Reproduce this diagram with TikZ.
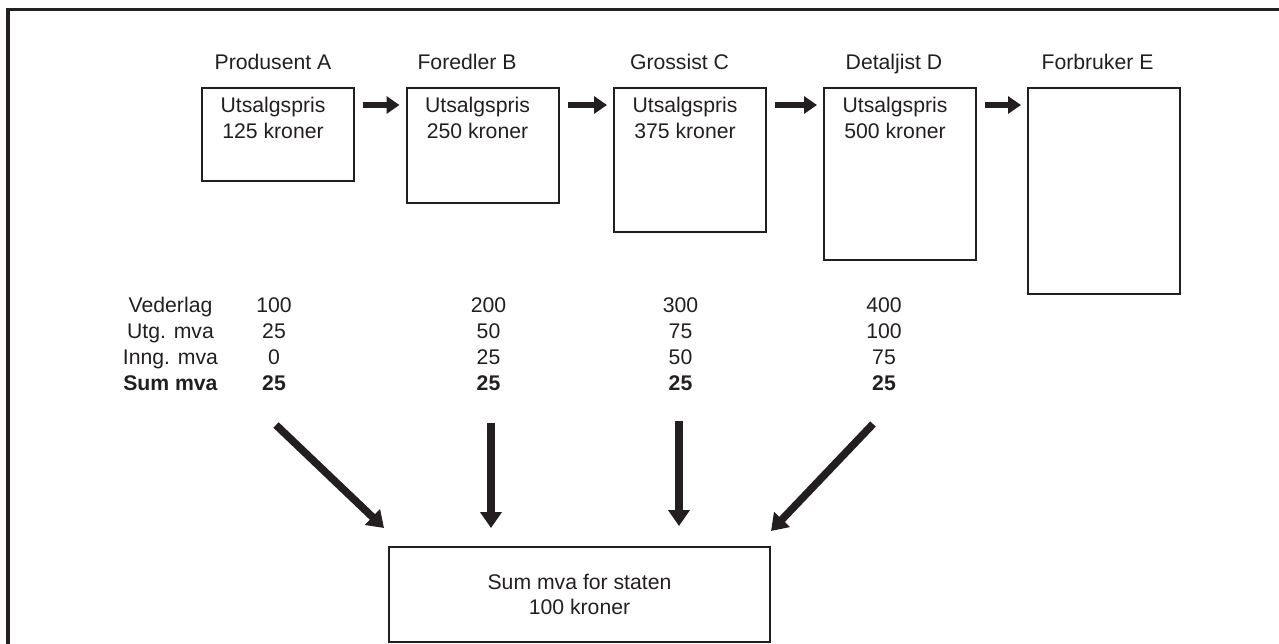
\documentclass[tikz,border=0pt]{standalone}
\usepackage{fontspec}
\setmainfont{Liberation Sans}
\usetikzlibrary{arrows.meta}

\definecolor{ink}{HTML}{231F20}

\begin{document}
\begin{tikzpicture}[x=0.5pt, y=-0.5pt, ink,
    every node/.style = {font=\fontsize{10.6pt}{13pt}\selectfont, text=ink},
    boks/.style = {draw, line width=1pt, inner sep=0pt, minimum width=76pt},
    pil/.style = {line width=3.3pt, -{Triangle[length=6.5pt, width=8.5pt]}},
    pilned/.style = {line width=3.8pt, -{Triangle[length=8pt, width=10.5pt]}}]
\useasboundingbox (0,0) rectangle (1279,643);
\clip (0,0) rectangle (1279,643);
\draw[line width=1.6pt] (8,9.5) rectangle (1300,680);

\node[boks, minimum height=46.5pt] (A) at (278,134.5) {};
\node[boks, minimum height=57.5pt] (B) at (482.5,145.5) {};
\node[boks, minimum height=72pt]   (C) at (690,160) {};
\node[boks, minimum height=86pt]   (D) at (900,174) {};
\node[boks, minimum height=103pt]  (E) at (1104,191) {};

\node[anchor=base] (tA) at (273,69.5)    {Produsent A};
\node[anchor=base] (tB) at (467,69.5)    {Foredler B};
\node[anchor=base] (tC) at (679.5,69.5)  {Grossist C};
\node[anchor=base] (tD) at (894,69.5)    {Detaljist D};
\node[anchor=base] (tE) at (1097.5,69.5) {Forbruker E};

\begin{scope}[nodes = {anchor=north, align=center}]
    \node (pA) at ([xshift=-2.5pt, yshift=-1.5pt]A.north) {Utsalgspris\\125 kroner};
    \node (pB) at ([xshift=-2.5pt, yshift=-1.5pt]B.north) {Utsalgspris\\250 kroner};
    \node (pC) at ([xshift=-2.5pt, yshift=-1.5pt]C.north) {Utsalgspris\\375 kroner};
    \node (pD) at ([xshift=-2.5pt, yshift=-1.5pt]D.north) {Utsalgspris\\500 kroner};
\end{scope}

\foreach \fra/\til in {A/B, B/C, C/D, D/E}
    \draw[pil] ([xshift=4pt, yshift=-9pt]\fra.north east) -- ([xshift=-3pt, yshift=-9pt]\til.north west);

\begin{scope}[nodes = {anchor=base}]
    \node (L1) at (170.5,312)   {Vederlag};
    \node (L2) at (170.5,338.5) {Utg. mva};
    \node (L3) at (170.5,364.5) {Inng. mva};
    \node (L4) at (170.5,390.5) {\textbf{Sum mva}};
    \foreach \x/\ved/\utg/\inn [count=\n] in {274/100/25/0, 488.5/200/50/25, 680.5/300/75/50, 884/400/100/75} {
        \node (ved\n) at (\x,312)   {\ved};
        \node (utg\n) at (\x,338.5) {\utg};
        \node (inn\n) at (\x,364.5) {\inn};
        \node (sum\n) at (\x,390.5) {\textbf{25}};
    }
\end{scope}

\node[boks, minimum width=190.5pt, minimum height=47.5pt, line width=0.9pt,
      align=center, font=\fontsize{10.6pt}{12.5pt}\selectfont] (S) at (579.5,594.5)
      {Sum mva for staten\\100 kroner};

\coordinate (fra1) at (276,425); \coordinate (til1) at (384,528);
\coordinate (fra2) at (491,423); \coordinate (til2) at (491,528);
\coordinate (fra3) at (679,421); \coordinate (til3) at (679,526);
\coordinate (fra4) at (873,424); \coordinate (til4) at (771,531);
\foreach \n in {1,...,4}
    \draw[pilned] (fra\n) -- (til\n);

\end{tikzpicture}
\end{document}
